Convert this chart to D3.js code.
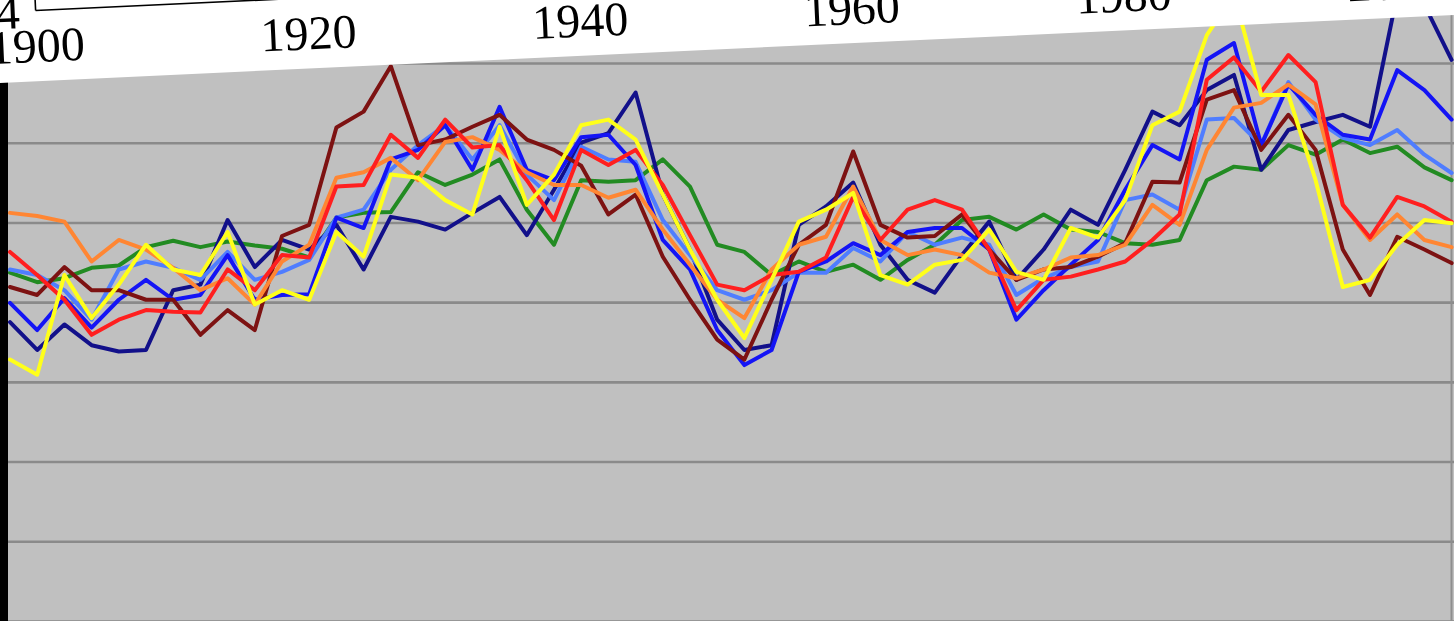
<!DOCTYPE html>
<html>
<head>
<meta charset="utf-8">
<script src="https://cdn.jsdelivr.net/npm/d3@7"></script>
<style>
  html, body { margin: 0; padding: 0; background: #ffffff; overflow: hidden; }
  svg { display: block; }
</style>
</head>
<body>
<svg id="chart" width="1454" height="621"></svg>
<script>
// ---- data ----
const years = [1900,1902,1904,1906,1908,1910,1912,1914,1916,1918,1920,1922,1924,1926,1928,1930,1932,1934,1936,1938,
  1940,1942,1944,1946,1948,1950,1952,1954,1956,1958,1960,1962,1964,1966,1968,1970,1972,1974,1976,1978,
  1980,1982,1984,1986,1988,1990,1992,1994,1996,1998,2000,2002,2004,2006];
const labelYears = [1900, 1920, 1940, 1960, 1980, 2000];
const gridValues = [-3, -2, -1, 0, 1, 2, 3, 4];

const navy = [0.75,0.40,0.72,0.46,0.38,0.40,1.15,1.22,2.03,1.44,1.78,1.66,1.97,1.41,2.07,2.01,1.91,2.12,2.32,1.84,
  2.41,3.00,3.12,3.63,2.35,1.66,0.78,0.40,0.46,1.97,2.20,2.50,1.72,1.28,1.12,1.59,2.01,1.28,1.66,2.16,
  1.97,2.66,3.39,3.22,3.66,3.85,2.66,3.16,3.26,3.35,3.20,4.86,4.73,4.04];
const blue = [0.99,0.65,1.05,0.68,1.03,1.28,1.03,1.09,1.59,1.03,1.09,1.10,2.06,1.93,2.79,2.91,3.22,2.66,3.45,2.66,
  2.53,3.07,3.10,2.72,1.78,1.41,0.65,0.21,0.40,1.38,1.51,1.74,1.59,1.88,1.93,1.93,1.66,0.78,1.15,1.47,
  1.78,2.41,2.97,2.79,4.04,4.25,2.97,3.73,3.35,3.10,3.04,3.91,3.66,3.29];
const lightBlue = [1.41,1.34,1.15,0.78,1.41,1.51,1.43,1.28,1.63,1.28,1.38,1.53,2.06,2.16,2.66,2.97,3.22,2.79,3.22,2.60,
  2.28,2.95,2.79,2.76,2.03,1.59,1.15,1.03,1.15,1.37,1.37,1.68,1.51,1.88,1.72,1.81,1.72,1.09,1.30,1.44,
  1.51,2.28,2.35,2.16,3.29,3.31,2.97,3.76,3.29,3.06,2.97,3.16,2.85,2.62];
const green = [1.37,1.25,1.30,1.43,1.46,1.69,1.77,1.69,1.76,1.71,1.67,1.56,2.06,2.12,2.13,2.63,2.47,2.60,2.79,2.16,
  1.72,2.53,2.51,2.53,2.79,2.45,1.72,1.63,1.34,1.51,1.38,1.47,1.28,1.53,1.72,2.03,2.07,1.91,2.10,1.91,
  1.88,1.74,1.72,1.78,2.53,2.70,2.66,2.97,2.85,3.04,2.87,2.95,2.69,2.53];
const darkRed = [1.19,1.09,1.44,1.15,1.15,1.03,1.03,0.59,0.90,0.65,1.83,1.97,3.19,3.39,3.96,2.97,3.04,3.20,3.35,3.04,
  2.91,2.71,2.10,2.35,1.57,1.03,0.53,0.28,1.03,1.72,1.97,2.89,1.97,1.81,1.83,2.10,1.66,1.28,1.41,1.44,
  1.57,1.74,2.51,2.50,3.54,3.66,2.91,3.35,2.91,1.66,1.09,1.82,1.66,1.49];
const red = [1.63,1.34,1.03,0.59,0.78,0.90,0.88,0.87,1.41,1.15,1.59,1.56,2.45,2.47,3.10,2.81,3.29,2.94,2.97,2.53,
  2.03,2.91,2.72,2.91,2.47,1.84,1.22,1.15,1.34,1.38,1.56,2.32,1.78,2.16,2.28,2.16,1.66,0.90,1.28,1.32,
  1.41,1.51,1.78,2.10,3.79,4.07,3.64,4.10,3.76,2.22,1.81,2.32,2.20,2.01];
const orange = [2.12,2.08,2.01,1.51,1.78,1.66,1.43,1.15,1.30,0.97,1.51,1.72,2.56,2.63,2.81,2.53,3.01,3.07,2.91,2.63,
  2.47,2.47,2.31,2.41,1.91,1.47,1.03,0.80,1.41,1.72,1.82,2.45,1.78,1.59,1.66,1.59,1.37,1.30,1.41,1.56,
  1.59,1.72,2.22,1.97,2.91,3.44,3.50,3.73,3.48,2.22,1.78,2.10,1.78,1.69];
const yellow = [0.28,0.09,1.34,0.80,1.22,1.72,1.41,1.34,1.88,0.97,1.15,1.03,1.88,1.57,2.60,2.56,2.28,2.10,3.20,2.22,
  2.60,3.22,3.29,3.04,2.35,1.66,1.03,0.55,1.28,2.01,2.16,2.37,1.34,1.22,1.47,1.53,1.91,1.38,1.28,1.93,
  1.81,2.28,3.22,3.39,4.35,4.86,3.60,3.60,2.53,1.19,1.28,1.72,2.03,1.99];

const series = [
  { name: "green",     values: green,     color: "#228b22" },
  { name: "navy",      values: navy,      color: "#12108a" },
  { name: "lightBlue", values: lightBlue, color: "#4f7dff" },
  { name: "blue",      values: blue,      color: "#1414f5" },
  { name: "darkRed",   values: darkRed,   color: "#7d1212" },
  { name: "orange",    values: orange,    color: "#ff8633" },
  { name: "red",       values: red,       color: "#ff1f1f" },
  { name: "yellow",    values: yellow,    color: "#ffff1a" }
];

// ---- layout ----
const W = 1454, H = 621;
const svg = d3.select("#chart");

const x = d3.scaleLinear().domain([1900, 2006]).range([10, 1451.6]);
const y = d3.scaleLinear().domain([-3, 4]).range([621, 63]);

// plot background
svg.append("rect").attr("x", 0).attr("y", 0).attr("width", W).attr("height", H).attr("fill", "#c0c0c0");

// horizontal gridlines
const grid = svg.append("g").attr("class", "grid")
  .call(d3.axisLeft(y).tickValues(gridValues).tickSize(-W).tickFormat(""));
grid.select(".domain").remove();
grid.selectAll(".tick line").attr("stroke", "#8a8a8a").attr("stroke-width", 2.6);

// right border of plot
svg.append("line").attr("x1", 1451.5).attr("x2", 1451.5).attr("y1", 0).attr("y2", H)
  .attr("stroke", "#8e8e8e").attr("stroke-width", 2);

// series lines
const line = d3.line().x((d, i) => x(years[i])).y(d => y(d));
svg.append("g").selectAll("path").data(series).join("path")
  .attr("d", d => line(d.values))
  .attr("fill", "none")
  .attr("stroke", d => d.color)
  .attr("stroke-width", 4)
  .attr("stroke-linejoin", "round")
  .attr("stroke-linecap", "round");

// left black edge
svg.append("rect").attr("x", 0).attr("y", 0).attr("width", 8).attr("height", H).attr("fill", "#000");

// white slanted header area
svg.append("polygon")
  .attr("points", [[0, 0], [W, 0], [W, 15], [0, 83]].map(p => p.join(",")).join(" "))
  .attr("fill", "#ffffff");

// rotated label axis
const angle = -2.65;
const lab = svg.append("g").attr("transform", `translate(27,62.4) rotate(${angle})`);
const ax = lab.append("g")
  .call(d3.axisBottom(x).tickValues(labelYears).tickSize(0).tickFormat(d3.format("d")));
ax.select(".domain").remove();
ax.selectAll(".tick text")
  .attr("y", 0).attr("dy", 0)
  .attr("fill", "#000")
  .style("font-family", "'Liberation Serif', 'DejaVu Serif', serif")
  .style("font-size", "48px");

// box corner line above labels
lab.append("path")
  .attr("d", "M11,-51.5 H1700 M11,-51.5 V-90")
  .attr("fill", "none").attr("stroke", "#000").attr("stroke-width", 1.6);

// stray axis digit at top-left
lab.append("text")
  .attr("x", -5).attr("y", -34.5)
  .attr("text-anchor", "end")
  .attr("fill", "#000")
  .style("font-family", "'Liberation Serif', 'DejaVu Serif', serif")
  .style("font-size", "48px")
  .text("4");
</script>
</body>
</html>
